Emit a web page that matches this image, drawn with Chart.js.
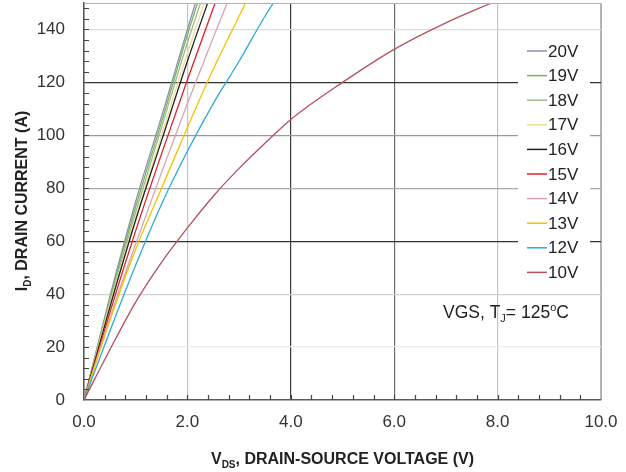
<!DOCTYPE html>
<html>
<head>
<meta charset="utf-8">
<script src="https://cdn.jsdelivr.net/npm/chart.js@4.4.1/dist/chart.umd.min.js"></script>
<style>
  html, body { margin: 0; padding: 0; background: #fff; }
  #wrap { width: 626px; height: 472px; }
</style>
</head>
<body>
<div id="wrap"><canvas id="idChart" width="626" height="472"></canvas></div>
<script>
'use strict';

// drain-source voltage steps (V)
const vds = [0, 0.5, 1.0, 1.5, 2.0, 2.5, 3.0, 3.5, 4.0, 5.0, 6.0, 7.0, 8.0];

// drain current (A) per gate voltage
const id20V = [0, 39, 75, 107, 140, 172];
const id19V = [0, 38, 73, 105, 138, 168];
const id18V = [0, 37, 71, 103, 135, 164];
const id17V = [0, 36, 69, 100, 131, 160];
const id16V = [0, 35, 68, 98, 128, 156];
const id15V = [0, 33, 64, 93, 121, 148, 174];
const id14V = [0, 31, 59, 86, 112, 137, 161];
const id13V = [0, 30, 57, 80, 103, 125, 145, 165];
const id12V = [0, 26, 51, 74, 94, 112, 128, 145, 160];
const id10V = [0, 19, 37, 52, 65, 77, 87.5, 97, 106, 120, 132.5, 142.5, 151];

const gateLabels = ['20V', '19V', '18V', '17V', '16V', '15V', '14V', '13V', '12V', '10V'];
const gateSeries = [id20V, id19V, id18V, id17V, id16V, id15V, id14V, id13V, id12V, id10V];
const gateColors = ['#8a8fb8', '#7fb356', '#9dbb8e', '#ece09a', '#222222', '#e0202c', '#d9a3ac', '#f3c300', '#2ea8df', '#b5505c'];

const xTitle = [['V', 0], ['DS', 1], [', DRAIN-SOURCE VOLTAGE (V)', 0]];
const yTitle = [['I', 0], ['D', 1], [', DRAIN CURRENT (A)', 0]];
const noteParts = [['VGS, T', 0], ['J', 1], ['= 125', 0], ['o', -1], ['C', 0]];

const FONT = "'Liberation Sans', Arial, sans-serif";

const gridX = {2: '#c4c4c4', 4: '#3a3a3a', 6: '#6e6e6e', 8: '#c4c4c4', 10: '#b5b5b5'};
const gridY = {20: '#ececec', 40: '#d2d2d2', 60: '#333333', 80: '#a8a8a8', 100: '#9a9a9a', 120: '#333333', 140: '#dcdcdc'};

const drawRich = (ctx, parts, x, y, size, bold, align) => {
    const w = bold ? 'bold ' : '';
    const fontFor = (p) => p[1] === 0 ? w + size + 'px ' + FONT : w + Math.round(size * 0.62) + 'px ' + FONT;
    let total = 0;
    parts.forEach(p => { ctx.font = fontFor(p); total += ctx.measureText(p[0]).width; });
    let cx = align === 'center' ? x - total / 2 : x;
    ctx.textAlign = 'left';
    ctx.textBaseline = 'alphabetic';
    parts.forEach(p => {
        ctx.font = fontFor(p);
        const dy = p[1] === 1 ? size * 0.22 : (p[1] === -1 ? -size * 0.42 : 0);
        ctx.fillText(p[0], cx, y + dy);
        cx += ctx.measureText(p[0]).width;
    });
};

const decorPlugin = {
    id: 'decor',
    afterDatasetsDraw(chart) {
        const ctx = chart.ctx;
        const area = chart.chartArea;
        const xs = chart.scales.x;
        const ys = chart.scales.y;
        ctx.save();

        // top and right frame
        ctx.strokeStyle = '#b0b0b0';
        ctx.lineWidth = 1;
        ctx.beginPath();
        ctx.moveTo(area.left, area.top + 0.5);
        ctx.lineTo(area.right + 0.5, area.top + 0.5);
        ctx.lineTo(area.right + 0.5, area.bottom);
        ctx.stroke();

        // minor ticks, inside
        ctx.strokeStyle = '#444';
        ctx.lineWidth = 1.2;
        ctx.beginPath();
        for (let k = 1; k < 25; k++) {
            const px = Math.round(xs.getPixelForValue(k * 0.4)) + 0.5;
            ctx.moveTo(px, area.bottom);
            ctx.lineTo(px, area.bottom - 5);
        }
        for (let k = 1; k < 38; k++) {
            const py = Math.round(ys.getPixelForValue(k * 4)) + 0.5;
            ctx.moveTo(area.left, py);
            ctx.lineTo(area.left + 5, py);
        }
        ctx.stroke();

        // legend inside plot, same order as gateLabels
        ctx.fillStyle = '#fff';
        ctx.fillRect(518, 38, 72, 248);
        gateLabels.forEach((label, i) => {
            const ly = 51 + i * 24.6;
            ctx.strokeStyle = gateColors[i];
            ctx.lineWidth = 1.5;
            ctx.beginPath();
            ctx.moveTo(527, ly);
            ctx.lineTo(547, ly);
            ctx.stroke();
            ctx.fillStyle = '#222';
            ctx.font = '17px ' + FONT;
            ctx.textAlign = 'left';
            ctx.textBaseline = 'middle';
            ctx.fillText(label, 548, ly + 1);
        });

        // note
        ctx.fillStyle = '#222';
        drawRich(ctx, noteParts, 443, 318, 17.5, false, 'left');

        // axis titles
        drawRich(ctx, xTitle, (area.left + area.right) / 2, 464, 16, true, 'center');
        ctx.translate(27, 201);
        ctx.rotate(-Math.PI / 2);
        drawRich(ctx, yTitle, 0, 0, 16, true, 'center');
        ctx.restore();
    }
};

const datasets = gateSeries.map((series, i) => ({
    label: gateLabels[i],
    data: series.map((cur, j) => ({x: vds[j], y: cur})),
    borderColor: gateColors[i],
    backgroundColor: gateColors[i],
    borderWidth: 1.3,
    pointRadius: 0,
    cubicInterpolationMode: 'monotone',
    fill: false
}));

new Chart('idChart', {
    type: 'line',
    data: {datasets: datasets.slice().reverse()},
    options: {
        responsive: false,
        animation: false,
        devicePixelRatio: 1,
        layout: {padding: {top: 3, right: 25, left: 0, bottom: 0}},
        plugins: {
            legend: {display: false},
            tooltip: {enabled: false}
        },
        scales: {
            x: {
                type: 'linear',
                min: 0,
                max: 10,
                afterFit: (s) => {
                    s.height = 72;
                    s.paddingLeft = 0;
                    s.paddingRight = 0;
                },
                ticks: {
                    stepSize: 2,
                    callback: (v) => v.toFixed(1),
                    font: {family: FONT, size: 17},
                    color: '#333',
                    padding: 12,
                    maxRotation: 0
                },
                grid: {
                    drawTicks: false,
                    color: (c) => gridX[c.tick.value] || 'rgba(0,0,0,0)',
                    lineWidth: 1.2
                },
                border: {color: '#5a5a5a', width: 1.6}
            },
            y: {
                min: 0,
                max: 150,
                afterFit: (s) => {
                    s.width = 84;
                    s.paddingTop = 0;
                    s.paddingBottom = 0;
                },
                afterBuildTicks: (s) => { s.ticks = s.ticks.filter(t => t.value % 20 === 0); },
                ticks: {
                    stepSize: 20,
                    font: {family: FONT, size: 17},
                    color: '#333',
                    padding: 19
                },
                grid: {
                    drawTicks: false,
                    color: (c) => gridY[c.tick.value] || 'rgba(0,0,0,0)',
                    lineWidth: 1.2
                },
                border: {color: '#5a5a5a', width: 1.6}
            }
        }
    },
    plugins: [decorPlugin]
});
</script>
</body>
</html>
